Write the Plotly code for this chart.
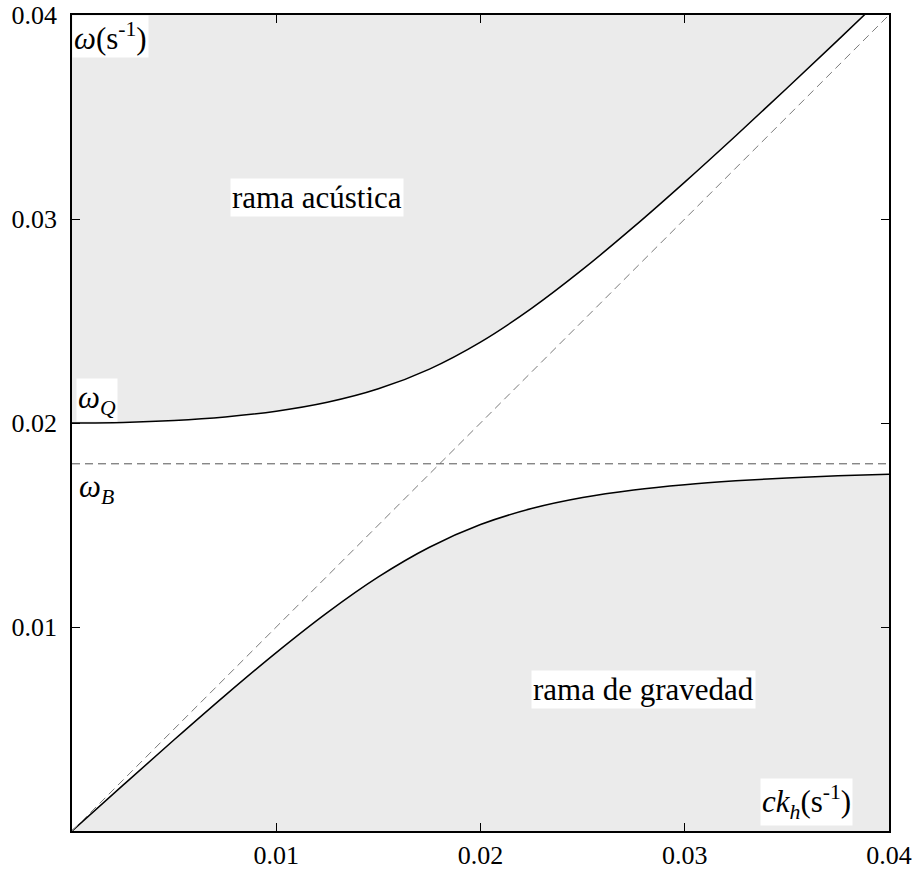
import plotly.graph_objects as go

# horizontal wavenumber times sound speed, ck_h (s^-1)
ck = [0.0, 0.0025, 0.005, 0.0075, 0.01, 0.0125, 0.015, 0.0175, 0.02,
      0.0225, 0.025, 0.0275, 0.03, 0.0325, 0.035, 0.0375, 0.04]
# acoustic branch (upper curve), omega (s^-1)
acoustic = [0.02, 0.02003, 0.020125, 0.020298, 0.020579, 0.021015, 0.021676,
            0.022644, 0.023966, 0.025619, 0.027528, 0.029611, 0.031809,
            0.034083, 0.036409, 0.038770, 0.041158]
# gravity branch (lower curve), omega (s^-1)
gravity = [0.0, 0.002246, 0.004472, 0.006651, 0.008747, 0.010707, 0.012456,
           0.013911, 0.015022, 0.015808, 0.016347, 0.016717, 0.016976,
           0.017164, 0.017304, 0.017410, 0.017493]
omega_B = 0.018
axis_max = 0.04
diag = [0.0, 0.04]
tick_vals = [0.01, 0.02, 0.03, 0.04]
tick_text = ["0.01", "0.02", "0.03", "0.04"]

FILL = "#ebebeb"
FONT = "Liberation Serif, serif"

fig = go.Figure()
# top boundary (invisible) for acoustic region fill
fig.add_trace(go.Scatter(x=ck, y=[axis_max] * len(ck), mode="lines",
                         line=dict(width=0, color="rgba(0,0,0,0)"),
                         hoverinfo="skip", showlegend=False))
fig.add_trace(go.Scatter(x=ck, y=acoustic, mode="lines", fill="tonexty",
                         fillcolor=FILL, line=dict(color="black", width=1.5, shape="spline"),
                         showlegend=False))
fig.add_trace(go.Scatter(x=ck, y=gravity, mode="lines", fill="tozeroy",
                         fillcolor=FILL, line=dict(color="black", width=1.5, shape="spline"),
                         showlegend=False))
fig.add_trace(go.Scatter(x=diag, y=diag, mode="lines",
                         line=dict(color="#7a7a7a", width=1, dash="8px,5px"),
                         showlegend=False))
fig.add_trace(go.Scatter(x=[0, axis_max], y=[omega_B, omega_B], mode="lines",
                         line=dict(color="#555555", width=1, dash="8px,5px"),
                         showlegend=False))

ann_font = dict(family=FONT, size=31, color="black")
anns = [
    dict(x=0, y=axis_max, xanchor="left", yanchor="top",
         text="<i>ω</i>(s<sup>-1</sup>)", bgcolor="white", borderpad=1),
    dict(x=0.0002, y=0.02113, xanchor="left", yanchor="middle",
         text="<i>ω<sub>Q</sub></i>", bgcolor="white", borderpad=1),
    dict(x=0.0003, y=0.01676, xanchor="left", yanchor="middle",
         text="<i>ω<sub>B</sub></i>", bgcolor="white", borderpad=0),
    dict(x=0.0120, y=0.03103, xanchor="center", yanchor="middle",
         text="rama acústica", bgcolor="white", borderpad=1),
    dict(x=0.0280, y=0.00696, xanchor="center", yanchor="middle",
         text="rama de gravedad", bgcolor="white", borderpad=1),
    dict(x=0.03594, y=0.00142, xanchor="center", yanchor="middle",
         text="<i>ck<sub>h</sub></i>(s<sup>-1</sup>)", bgcolor="white", borderpad=1),
]
for a in anns:
    fig.add_annotation(xref="x", yref="y", showarrow=False, font=ann_font, **a)

axis_common = dict(range=[0, axis_max], showgrid=False, zeroline=False,
                   showline=True, linecolor="black", linewidth=1.5,
                   mirror="ticks", ticks="inside", ticklen=8, tickwidth=1,
                   tickcolor="black", tickvals=tick_vals, ticktext=tick_text,
                   automargin=False, ticklabeloverflow="allow",
                   tickfont=dict(family=FONT, size=26, color="black"))
fig.update_xaxes(**axis_common)
fig.update_yaxes(**axis_common, ticklabelstandoff=8)
fig.update_layout(width=916, height=875, plot_bgcolor="white", paper_bgcolor="white",
                  font=dict(family=FONT),
                  margin=dict(l=72, r=27, t=15, b=44), showlegend=False)
fig.write_html("out.html", config={"displayModeBar": False},
               post_script="document.body.style.margin='0';document.body.style.overflow='hidden';")
